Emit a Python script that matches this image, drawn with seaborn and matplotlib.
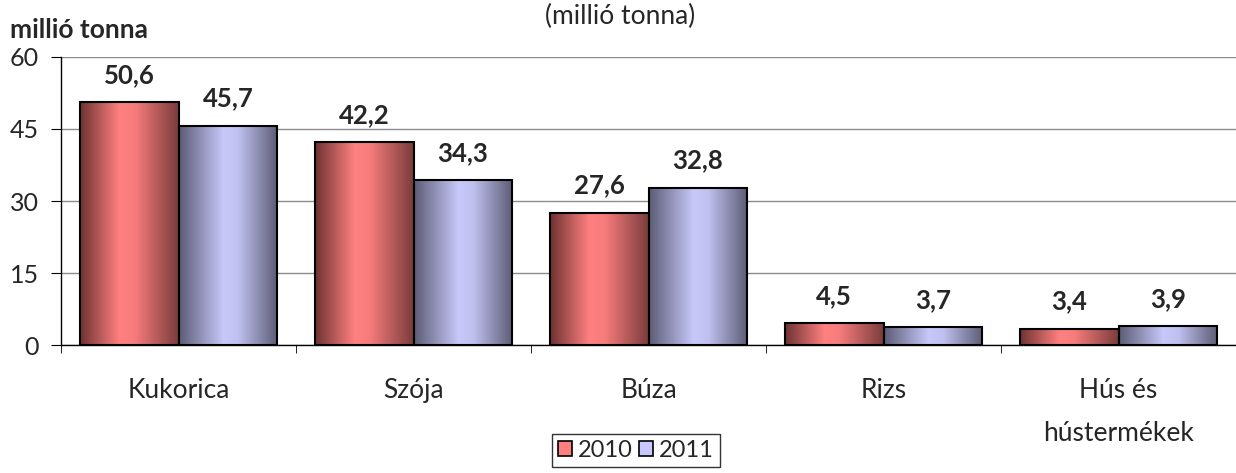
import numpy as np
import pandas as pd
import seaborn as sns
import matplotlib.pyplot as plt
from matplotlib.colors import LinearSegmentedColormap
from matplotlib.patches import Patch

categories = ['Kukorica', 'Szója', 'Búza', 'Rizs', 'Hús és\nhústermékek']
years = ['2010', '2011']
values_2010 = [50.6, 42.2, 27.6, 4.5, 3.4]
values_2011 = [45.7, 34.3, 32.8, 3.7, 3.9]
yticks = [0, 15, 30, 45, 60]

colors = {'2010': '#ff8080', '2011': '#c8c8ff'}
gradients = {
    '2010': LinearSegmentedColormap.from_list(
        'r', [(0, '#6e3232'), (0.4, '#ff8080'), (0.55, '#f87c7c'), (1, '#7a3c3c')]),
    '2011': LinearSegmentedColormap.from_list(
        'b', [(0, '#5c5c76'), (0.45, '#c8c8fa'), (0.6, '#c0c0f0'), (1, '#5c5c74')]),
}

df = pd.DataFrame({
    'kategoria': categories * 2,
    'ev': ['2010'] * 5 + ['2011'] * 5,
    'ertek': values_2010 + values_2011,
})

sns.set_style('white')
plt.rcParams['font.family'] = ['Lato', 'DejaVu Sans']

fig = plt.figure(figsize=(12.36, 4.73), dpi=100)
ax = fig.add_axes([0.0494, 0.2706, 0.9506, 0.6089])

sns.barplot(data=df, x='kategoria', y='ertek', hue='ev', palette=colors,
            width=0.84, ax=ax, legend=False, edgecolor='black', linewidth=1.5,
            zorder=3)

ax.set_ylim(0, 60)
ax.set_xlim(-0.5, 4.5)

# gradient fill clipped to each bar
grad = np.linspace(0, 1, 256).reshape(1, -1)
for cont, year in zip(ax.containers, years):
    for bar in cont:
        x, y = bar.get_x(), bar.get_y()
        w, h = bar.get_width(), bar.get_height()
        im = ax.imshow(grad, cmap=gradients[year], aspect='auto',
                       extent=(x, x + w, y, y + h), zorder=3.5)
        im.set_clip_path(bar)
        bar.set_facecolor('none')
        bar.set_zorder(4)
    labels = [f'{v:.1f}'.replace('.', ',') for v in cont.datavalues]
    ax.bar_label(cont, labels=labels, padding=11, fontsize=18.5,
                 fontweight='bold', zorder=5)

ax.set_ylim(0, 60)
ax.set_xlim(-0.5, 4.5)
ax.set_yticks(yticks)
ax.yaxis.grid(True, color='#8c8c8c', linewidth=1)
ax.set_axisbelow(True)
ax.set_xlabel('')
ax.set_ylabel('')

for s in ['top', 'right']:
    ax.spines[s].set_visible(False)
ax.spines['left'].set_color('black')
ax.spines['bottom'].set_color('black')
ax.spines['left'].set_linewidth(1)
ax.spines['bottom'].set_linewidth(1)

ax.tick_params(axis='y', which='major', direction='out', length=7,
               color='black', labelsize=18, pad=9, left=True)
ax.tick_params(axis='x', which='major', length=0, labelsize=19, pad=24)
ax.set_xticks(np.arange(-0.5, 5, 1), minor=True)
ax.tick_params(axis='x', which='minor', direction='out', length=6,
               color='black', bottom=True)
for lab in ax.get_xticklabels():
    lab.set_linespacing(1.9)
    lab.set_verticalalignment('top')

fig.text(0.008, 0.937, 'millió tonna', fontsize=19, fontweight='bold',
         ha='left', va='center')
fig.text(0.5016, 0.965, '(millió tonna)', fontsize=19, ha='center',
         va='center')

handles = [Patch(facecolor=colors[y], edgecolor='black', linewidth=1.2,
                 label=y) for y in years]
leg = fig.legend(handles=handles, loc='center', ncol=2,
                 bbox_to_anchor=(0.5146, 0.048), frameon=True, fontsize=17,
                 handlelength=0.6, handleheight=0.6, handletextpad=0.25,
                 columnspacing=0.25, borderpad=0.25, borderaxespad=0,
                 fancybox=False)
leg.get_frame().set_edgecolor('black')
leg.get_frame().set_linewidth(1)

fig.savefig('out.png', dpi=100)
